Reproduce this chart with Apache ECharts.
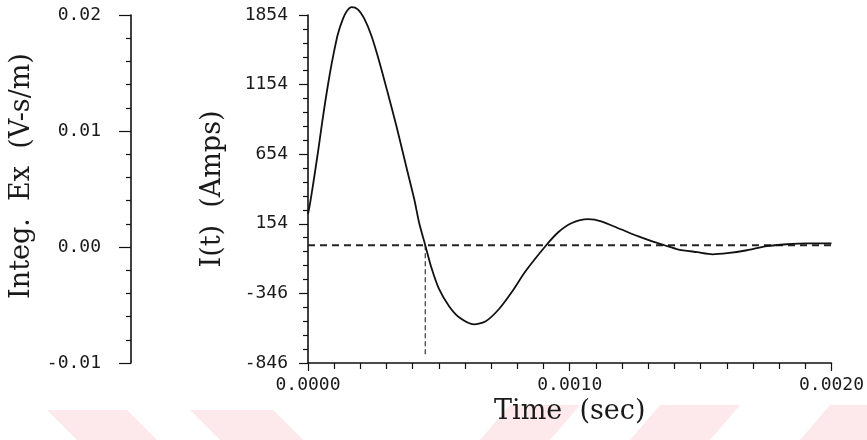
<!DOCTYPE html>
<html>
<head>
<meta charset="utf-8">
<script src="https://cdn.jsdelivr.net/npm/echarts@6/dist/echarts.min.js"></script>
<style>
	html, body { margin: 0; padding: 0; background: #fff; }
	#chart { width: 867px; height: 440px; }
</style>
</head>
<body>
<div id="chart"></div>
<script>
// values
const timeMs = [0, 0.008, 0.019, 0.038, 0.053, 0.068, 0.083, 0.099, 0.114, 0.133, 0.148, 0.167, 0.190,
	0.216, 0.243, 0.273, 0.304, 0.338, 0.376, 0.406, 0.425, 0.448, 0.471, 0.501, 0.539, 0.577,
	0.634, 0.679, 0.729, 0.778, 0.831, 0.907, 0.956, 1.006, 1.070, 1.120, 1.195, 1.260, 1.324,
	1.362, 1.412, 1.488, 1.545, 1.602, 1.677, 1.753, 1.829, 1.905, 2.000];
const currentAmps = [223, 302, 431, 668, 869, 1056, 1228, 1387, 1516, 1624, 1681, 1710, 1695,
	1624, 1501, 1315, 1099, 855, 560, 330, 158, 0, -158, -316, -438, -517,
	-568, -546, -460, -338, -187, -7, 93, 158, 187, 172, 115, 65, 22,
	0, -29, -50, -65, -57, -36, -7, 7, 14, 14];
const zeroLineMs = [0, 2.0];
const crossingMs = 0.448;
const crossingAmps = [0, -790];
const currentTickLabels = ['-846', '-346', '154', '654', '1154', '1854'];
const currentRange = [-846, 1654];
const fieldRange = [-0.01, 0.02];
const timeRangeSec = [0, 0.002];

// faint watermark bands at the bottom of the scan
const watermarkBands = [
	[[47, 410], [127, 410], [157, 440], [77, 440]],
	[[190, 410], [273, 410], [303, 440], [220, 440]],
	[[510, 405], [580, 405], [550, 440], [480, 440]],
	[[660, 405], [740, 405], [710, 440], [630, 440]],
	[[830, 405], [900, 405], [870, 440], [800, 440]]
];

const tickFont = { fontFamily: 'DejaVu Sans Mono', fontSize: 18, color: '#1a1a1a' };
const titleFont = { fontFamily: 'DejaVu Serif', fontSize: 27, color: '#1a1a1a' };
const ink = '#111';

const chart = echarts.init(document.getElementById('chart'), null, { renderer: 'canvas' });

chart.setOption({
	backgroundColor: '#fff',
	animation: false,
	graphic: watermarkBands.map(pts => ({
		type: 'polygon',
		shape: { points: pts },
		style: { fill: '#fde9eb' },
		z: 0
	})),
	grid: { left: 308, right: 32, top: 15, bottom: 77 },
	xAxis: {
		type: 'value',
		min: timeRangeSec[0],
		max: timeRangeSec[1],
		interval: 0.001,
		name: 'Time  (sec)',
		nameLocation: 'middle',
		nameGap: 34,
		nameTextStyle: titleFont,
		axisLine: { onZero: false, lineStyle: { color: ink, width: 1.6 } },
		axisTick: { show: true, length: 8, lineStyle: { color: ink, width: 1.2 } },
		minorTick: { show: true, splitNumber: 10, length: 6, lineStyle: { color: ink, width: 1.2 } },
		splitLine: { show: false },
		axisLabel: Object.assign({ margin: 13, formatter: v => v.toFixed(4) }, tickFont)
	},
	yAxis: [
		{
			type: 'value',
			position: 'left',
			min: currentRange[0],
			max: currentRange[1],
			interval: 500,
			name: 'I(t)  (Amps)',
			nameLocation: 'middle',
			nameGap: 82,
			nameRotate: 90,
			nameTextStyle: titleFont,
			axisLine: { show: true, onZero: false, lineStyle: { color: ink, width: 1.6 } },
			axisTick: { show: true, length: 9, lineStyle: { color: ink, width: 1.2 } },
			minorTick: { show: true, splitNumber: 5, length: 5, lineStyle: { color: ink, width: 1.2 } },
			splitLine: { show: false },
			axisLabel: Object.assign({
				margin: 20,
				formatter: v => currentTickLabels[Math.round((v - currentRange[0]) / 500)]
			}, tickFont)
		},
		{
			type: 'value',
			position: 'left',
			offset: 177,
			min: fieldRange[0],
			max: fieldRange[1],
			interval: 0.01,
			name: 'Integ.  Ex  (V-s/m)',
			nameLocation: 'middle',
			nameGap: 94,
			nameRotate: 90,
			nameTextStyle: Object.assign({ padding: [0, 0, 0, 26] }, titleFont),
			axisLine: { show: true, onZero: false, lineStyle: { color: ink, width: 1.6 } },
			axisTick: { show: true, length: 12, lineStyle: { color: ink, width: 1.2 } },
			minorTick: { show: true, splitNumber: 5, length: 5, lineStyle: { color: ink, width: 1.2 } },
			splitLine: { show: false },
			axisLabel: Object.assign({ margin: 30, formatter: v => v.toFixed(2) }, tickFont)
		}
	],
	series: [
		{
			// zero reference
			type: 'line',
			yAxisIndex: 0,
			data: zeroLineMs.map(t => [t / 1000, 0]),
			showSymbol: false,
			lineStyle: { color: '#222', width: 2, type: [7, 5] },
			z: 3
		},
		{
			// first zero crossing marker
			type: 'line',
			yAxisIndex: 0,
			data: crossingAmps.map(a => [crossingMs / 1000, a]),
			showSymbol: false,
			lineStyle: { color: '#333', width: 1.2, type: [5, 3] },
			z: 3
		},
		{
			type: 'line',
			yAxisIndex: 0,
			data: timeMs.map((t, i) => [t / 1000, currentAmps[i]]),
			showSymbol: false,
			smooth: 0.25,
			clip: false,
			lineStyle: { color: ink, width: 1.8 },
			z: 4
		}
	]
});
</script>
</body>
</html>
